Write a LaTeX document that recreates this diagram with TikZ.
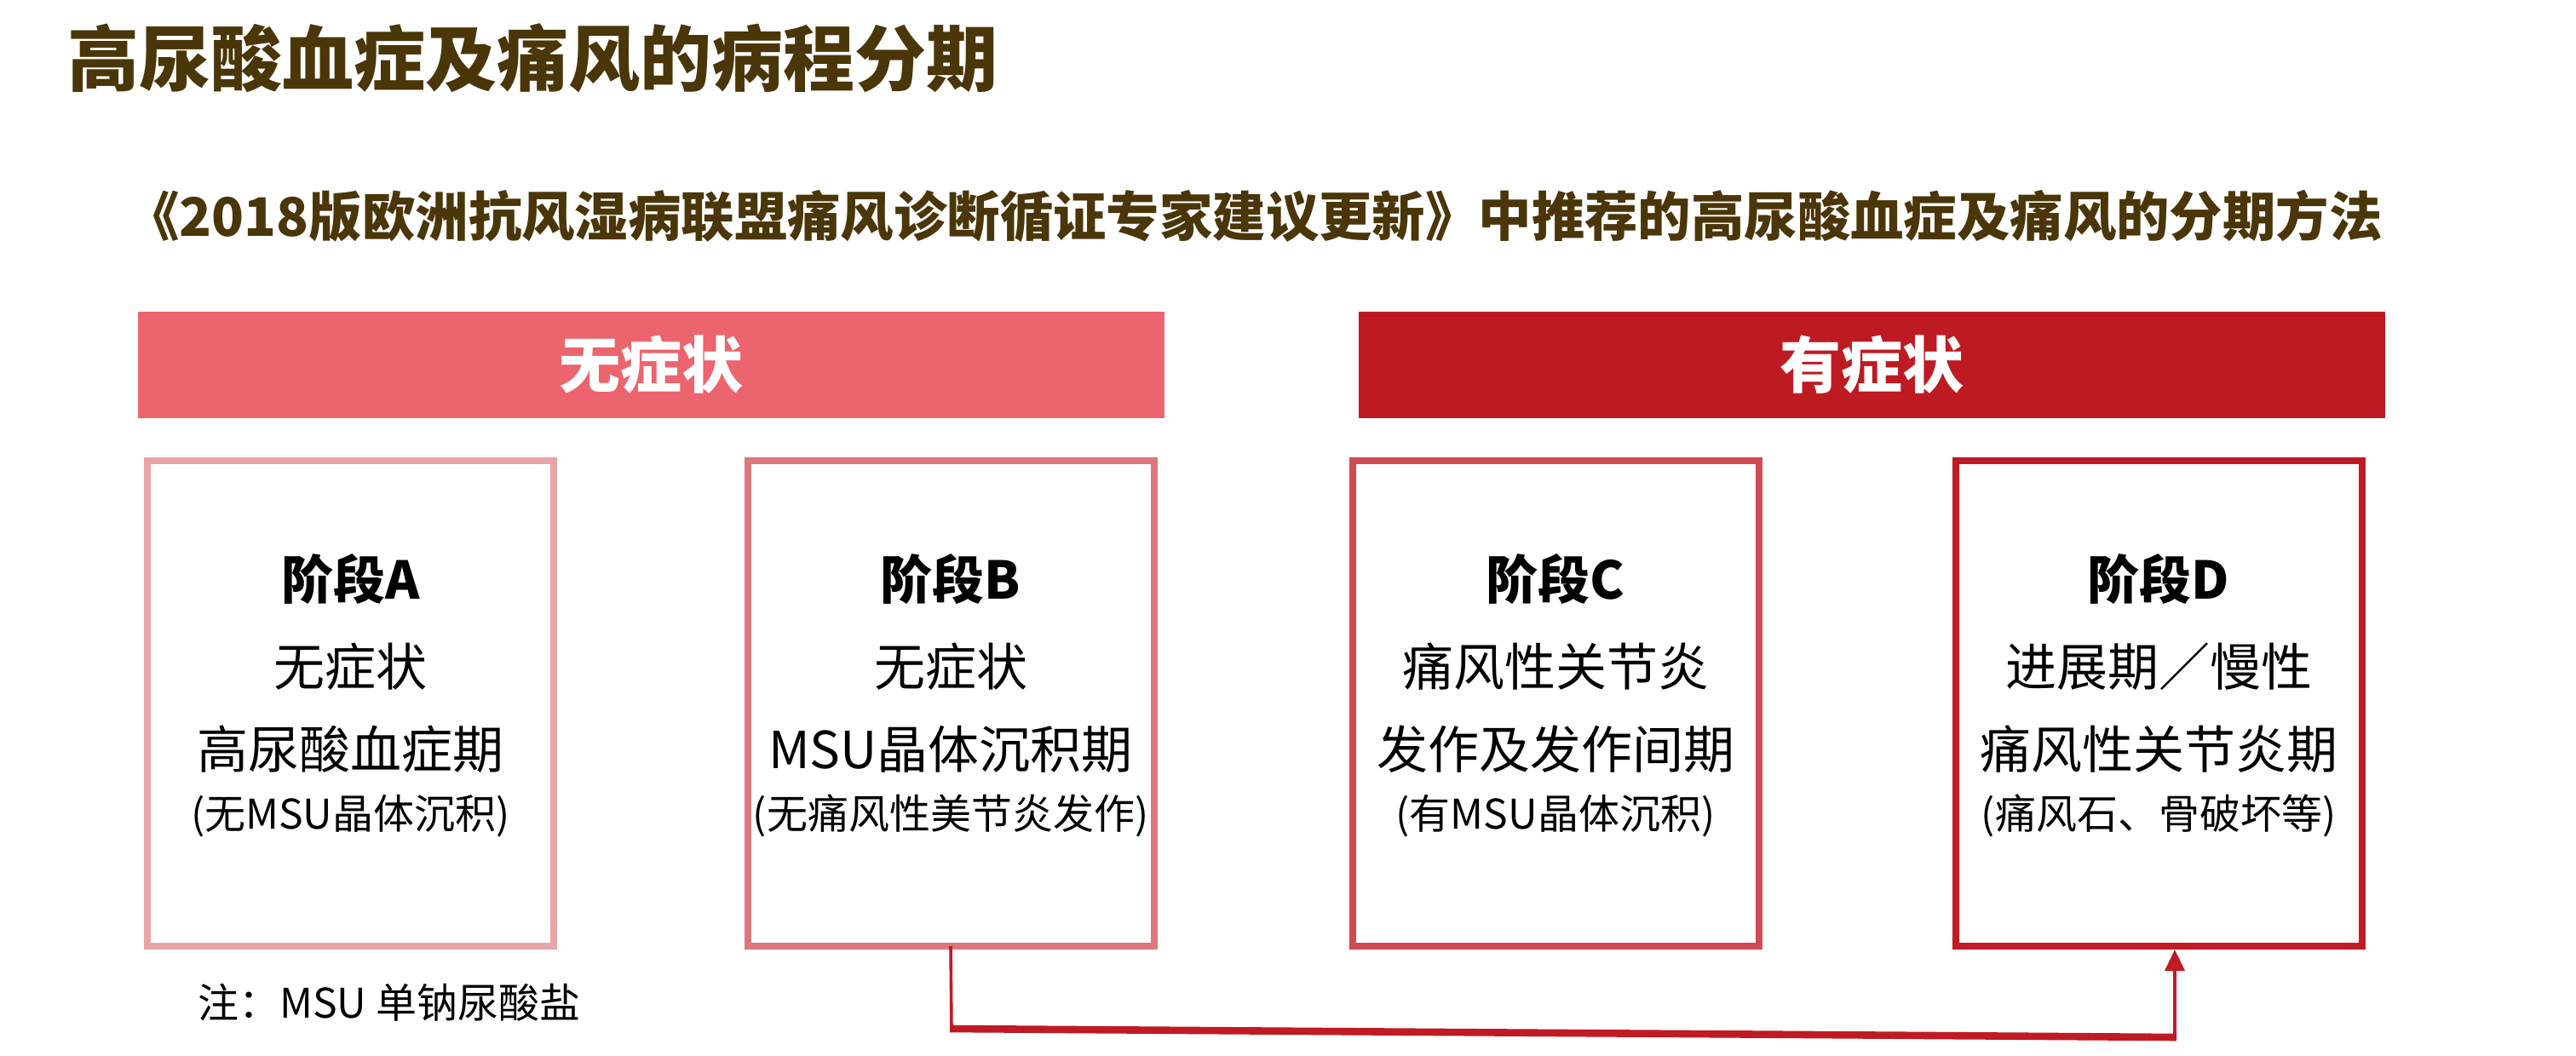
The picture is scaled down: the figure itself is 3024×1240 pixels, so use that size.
\documentclass[tikz,border=0pt]{standalone}
\usepackage{fontspec}
\setmainfont{Noto Sans CJK SC}
\usetikzlibrary{arrows.meta}
\definecolor{titlec}{RGB}{74,54,8}
\definecolor{barA}{RGB}{236,100,110}
\definecolor{barB}{RGB}{190,26,34}
\definecolor{edgeA}{RGB}{232,164,168}
\definecolor{edgeB}{RGB}{220,119,124}
\definecolor{edgeC}{RGB}{207,74,82}
\definecolor{edgeD}{RGB}{192,26,36}
\definecolor{arrc}{RGB}{192,26,36}
\tikzset{
  stagebox/.style={draw=#1, line width=4pt, fill=white, minimum width=238.5pt, minimum height=285pt, outer sep=0pt, inner sep=0pt},
  bar/.style={fill=#1, minimum width=602.5pt, minimum height=62.5pt, inner sep=0pt, outer sep=0pt, text=white, font=\bfseries\fontsize{36pt}{40pt}\selectfont},
  stagehead/.style={inner sep=0pt, font=\bfseries\fontsize{30.5pt}{34pt}\selectfont},
  stageline/.style={inner sep=0pt, font=\fontsize{30pt}{34pt}\selectfont},
  stagenote/.style={inner sep=0pt, font=\fontsize{24pt}{28pt}\selectfont},
}
\begin{document}
\begin{tikzpicture}[x=0.5pt,y=-0.5pt]
\useasboundingbox (0,0) rectangle (3024,1240);
\fill[white] (0,0) rectangle (3024,1240);
% titles
\node[anchor=west, inner sep=0pt, text=titlec, font=\bfseries\fontsize{42pt}{46pt}\selectfont] (title) at (79,68) {高尿酸血症及痛风的病程分期};
\node[anchor=west, inner sep=0pt, text=titlec, font=\bfseries\fontsize{31.2pt}{36pt}\selectfont] (subtitle) at (148,254) {《2018版欧洲抗风湿病联盟痛风诊断循证专家建议更新》中推荐的高尿酸血症及痛风的分期方法};
% bars
\node[bar=barA] (barasym) at (764.5,428.5) {无症状};
\node[bar=barB] (barsym) at (2197.5,428.5) {有症状};
% boxes
\node[stagebox=edgeA] (boxA) at (411.5,826) {};
\node[stagebox=edgeB] (boxB) at (1116,826) {};
\node[stagebox=edgeC] (boxC) at (1826,826) {};
\node[stagebox=edgeD] (boxD) at (2534,826) {};
% box A text
\node[stagehead] (a1) at (411.5,680) {阶段A};
\node[stageline] (a2) at (411.5,783) {无症状};
\node[stageline] (a3) at (411.5,880) {高尿酸血症期};
\node[stagenote] (a4) at (411.5,958) {(无MSU晶体沉积)};
% box B text
\node[stagehead] (b1) at (1116,680) {阶段B};
\node[stageline] (b2) at (1116,783) {无症状};
\node[stageline] (b3) at (1116,880) {MSU晶体沉积期};
\node[stagenote] (b4) at (1116,958) {(无痛风性美节炎发作)};
% box C text
\node[stagehead] (c1) at (1826,680) {阶段C};
\node[stageline] (c2) at (1826,783) {痛风性关节炎};
\node[stageline] (c3) at (1826,880) {发作及发作间期};
\node[stagenote] (c4) at (1826,958) {(有MSU晶体沉积)};
% box D text
\node[stagehead] (d1) at (2534,680) {阶段D};
\node[stageline] (d2) at (2534,783) {进展期／慢性};
\node[stageline] (d3) at (2534,880) {痛风性关节炎期};
\node[stagenote] (d4) at (2534,958) {(痛风石、骨破坏等)};
% footnote
\node[anchor=west, inner sep=0pt, font=\fontsize{24pt}{28pt}\selectfont] (note) at (232,1177) {注：MSU 单钠尿酸盐};
% connector
\coordinate (bend1) at (1117,1208);
\coordinate (bend2) at (2553,1218);
\coordinate (dArr) at (2553,1115);
\draw[arrc, line width=1.8pt] (boxB.south) -- (bend1);
\draw[arrc, line width=4.3pt] ([xshift=-1pt]bend1) -- ([xshift=1pt]bend2);
\draw[arrc, line width=1.8pt, -{Triangle[length=12.5pt,width=11.5pt]}] (bend2) -- (dArr);
\end{tikzpicture}
\end{document}
